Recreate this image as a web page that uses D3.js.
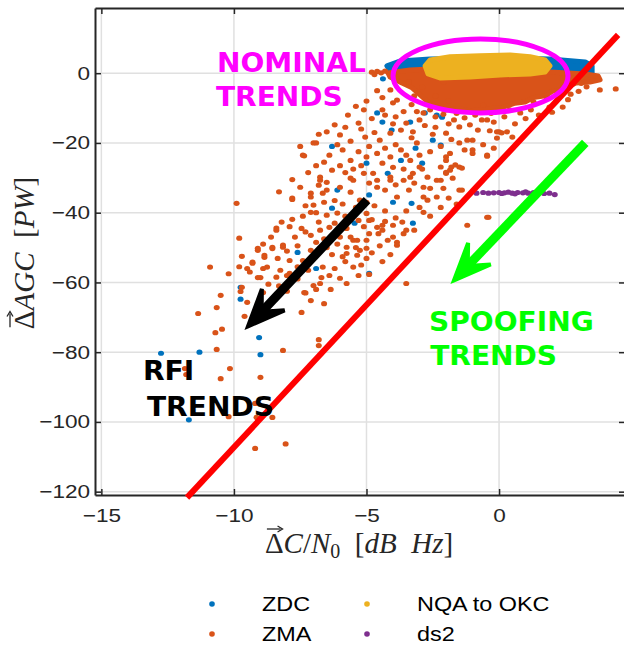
<!DOCTYPE html>
<html>
<head>
<meta charset="utf-8">
<title></title>
<script src="https://d3js.org/d3.v7.min.js"></script>
<style>
  body { margin: 0; background: #fff; }
</style>
</head>
<body>
<script>

var width = 624,
    height = 646,
    box = {left: 95, right: 625, top: 8, bottom: 495};

// axis ticks
var xTicks = [-15, -10, -5, 0];
var yTicks = [0, -20, -40, -60, -80, -100, -120];

// legend
var seriesNames = ["ZDC", "ZMA", "NQA to OKC", "ds2"];
var seriesColors = ["#0072BD", "#D95319", "#EDB120", "#7E2F8E"];

// scattered points [dC/N0, dAGC]
var zdcPoints = [[-4.38,-1.6],[-4.6,-11.4],[-4.4,-14],[-4.05,-16.3],[-2.8,-11.4],[-2.35,-12],[-6.3,-21],
  [-2.5,-19.2],[-3.35,-14],[-2.2,-20.6],[-3.15,-21.5],[-3.7,-25],[-5,-25.8],[-6.1,-33.5],[-6.3,-38.7],
  [-7.6,-51.4],[-6.9,-56],[-4.9,-57.4],[-4,-37],[-3.3,-37.3],[-3.25,-43],[-4.2,-28.7],[-4.9,-34.9],
  [-5.45,-43],[-2.9,-25.8],[-9.75,-61.4],[-9.75,-64.8],[-9.05,-75.8],[-9,-80.7],[-12.75,-80.3],
  [-11.3,-80],[-11.7,-99.4],[-2.15,-12.6],[-1.6,-9.5]];

var zmaPoints = [[-4.8,0.3],[-4.6,0.5],[-4.45,0.1],[-4.3,0.6],[-4.7,-0.4],
  [-4.1,-4.8],[-3.85,-7.7],[-4.4,-10.5],[-5.1,-10.5],[-5.7,-12],[-5.3,-14.3],[-6.5,-16.8],[-6,-17.7],
  [-7,-20],[-7.4,-23.5],[-6.4,-23.5],[-5.9,-22],[-5.05,-18.3],[-4.9,-21],[-4.5,-19.2],[-4.1,-17.2],
  [-3.7,-16.3],[-3.5,-14.3],[-3.25,-16.8],[-3,-13.4],[-2.85,-11.4],[-2.2,-21],[-2,-17.2],[-1.7,-13.4],
  [-1.5,-15.4],[-1.2,-19.2],[-1,-23],[-0.45,-23.5],[0,-16.8],[0.3,-16.8],[0.5,-18.3],[-1.5,-26.9],
  [-2,-24],[-3.7,-22],[-4.1,-24],[-3.35,-25],[-3,-26.9],[-2.7,-29.8],[-2.35,-30.7],[-2.2,-26.9],
  [-1.8,-26.9],[-2,-28.7],[-4.4,-25.8],[-4.75,-28.7],[-5,-24],[-5.6,-25],[-6.3,-27.8],[-6.75,-30.7],
  [-6.5,-33.5],[-7.1,-34.4],[-6,-32.7],[-5.5,-30.7],[-4.6,-32.7],[-4.1,-30.7],[-3.85,-35.5],
  [-2.7,-36.4],[-2.35,-35.5],[-2.85,-32.7],[-3.35,-29.8],[-1.5,-33.5],[-0.45,-41.3],[-1.2,-43.6],
  [-3.5,-45],[-4.4,-45],[-4.9,-46],[-4.2,-47.9],[-3.85,-48.5],[-5.3,-42.2],[-5,-40.2],[-5.5,-47.9],
  [-5.75,-49.9],[-5.25,-50.8],[-5,-53.1],
  [-7.8,-36.2],[-6.8,-32.1],[-6.75,-29.8],[-6.5,-31.3],[-7.1,-39.9],[-6.8,-42.7],[-6.5,-40.7],
  [-6.1,-40.1],[-8.2,-42.7],[-7.8,-41.9],[-7.45,-44.5],[-7.1,-46.5],[-6.75,-45],[-6.4,-44.2],
  [-8.4,-45],[-7.7,-47],[-8.15,-49.9],[-8.55,-50.3],[-9.1,-50.8],[-8.85,-52.8],[-8.35,-53.1],
  [-7.9,-53.7],[-7.4,-53.7],[-7.1,-50.8],[-6.65,-55.6],[-9.3,-54.2],[-8.75,-55.6],[-8.25,-56.5],
  [-7.9,-57.4],[-9,-58.6],[-7,-60.9],[-6.7,-58.6],[-6.4,-58],[-6,-58.8],[-5.75,-51.7],[-5.35,-52.2],
  [-5,-50.2],[-5.35,-47.9],[-5.6,-47],[-5,-47.9],[-5.75,-44.5],[-4.6,-44.2],[-4.4,-43.6],[-4,-43.6],
  [-4.55,-46],[-4,-47],[-3.85,-49.3],[-3.65,-42.7],[-2.85,-39.9],[-3.5,-60.3],[-4.9,-42.2],
  [-5.25,-36.4],[-5.6,-34.1],[-6.65,-34.4],[-7.1,-35.5],[-7.5,-32.7],[-5.6,-30.1],[-5.1,-28.7],
  [-4.6,-30.7],[-4.1,-29.8],[-3.6,-30.7],[-3.25,-28.7],[-2.85,-35.5],[-1.85,-27.8],[-2.2,-30.7],[-2,-25],
  [-10.9,-55.6],[-10.5,-63.7],[-10.65,-67.2],[-11.35,-68.9],[-10.7,-74.4],[-10.45,-73.4],
  [-10.65,-79.2],[-10.15,-84.7],[-10.5,-87.6],[-11.85,-84.7],[-11.8,-86.4],[-10.2,-98.5],
  [-9.7,-61.4],[-9.75,-62.6],[-9.5,-65.7],[-9.6,-69.7],[-8.9,-62.9],[-9.1,-58.6],[-9.5,-56],
  [-9.3,-54.5],[-9.1,-50.2],[-8.85,-52.2],[-8.55,-49.9],[-8.15,-49.3],[-8,-58],[-8.15,-79.5],
  [-9,-87.2],[-9.2,-94.7],[-9.15,-98.7],[-8.55,-98.7],[-9.2,-107.6],[-8.05,-106.3],[-9.9,-37.3],
  [-9.8,-47.3],[-8.4,-44.4],[-7.8,-35.8],[-7.5,-21],[-7.35,-23.7],[-6.9,-20],
  [-4.9,-57.7],[-5.75,-60.3],[-5.5,-55.6],[-5.9,-52.6],[-6.75,-60.3],[-6.6,-66.1],[-7.1,-65.2],
  [-7.45,-68.6],[-6.35,-62],[-6.8,-76.4],[-6.8,-78.1],[-7.35,-62.9],
  [-1.4,-33.5],[-0.45,-23.8],[-0.4,-41.3],[-1.75,-30.1],[-2,-28.4],[-1.65,-26.3],[-1.4,-27.2],
  [-1.3,-22],[-1,-22],[-1.5,-20],[-1.85,-23],[-0.08,-16.8],[0.1,-17.1],[-0.08,-18.6],[-0.35,-16.5],
  [-0.2,-14],[-0.45,-13.4],[-0.8,-16.3],[-0.65,-13.4],[1.9,-9.7],[2.4,-9.7],[1.2,-10.5],[0.8,-11.4],
  [-1,-19.2],[3.3,-3.9],[3.8,-4.8],[4.4,-4.5],[1.8,-7.1],[1.3,-8.2],[2.7,-6],[3.0,-5.2],
  [-3.3,-9],[-3.1,-11],[-2.6,-10.5],[-2.4,-12.5],[-2.1,-11.8],[-1.9,-14.5],[-1.6,-11.5],[-1.3,-12.8],
  [-1.1,-14.8],[-0.9,-12],[-0.3,-11.5],[0.2,-12.5],[-2.8,-15],[-2.5,-17.5],[-3.9,-12.5],[-3.6,-11],
  [-4.0,-8.5],[-4.4,-7],[-4.6,-5],[-5.0,-8],[-5.4,-9.5],[-4.8,-13],[-6.2,-14.8],[-6.8,-17.5],
  [-5.6,-19.5],[-6.1,-20.5],[-5.3,-22.5],[-4.6,-23],[-4.3,-21.5],[-3.1,-20],[-2.6,-22.5],[-3.0,-23.5],
  [-3.6,-27.5],[-4.0,-27],[-5.2,-26.5],[-5.8,-28.5],[-6.9,-26.5],[-7.2,-28.5],[-7.8,-30.5],
  [-8.3,-34],[-7.3,-38],[-6.2,-36.5],[-5.4,-38.5],[-4.3,-39.5],[-3.9,-41.5],[-6.9,-48.5],[-6.1,-49],
  [-6.3,-52],[-7.6,-59],[-8.7,-60.5],[-8.0,-62.5],[-9.7,-52.5],[-10.2,-57.5],
  [-6.6,-25.5],[-6.0,-26.5],[-5.5,-27.5],[-4.9,-31.5],[-4.3,-33.5],[-3.9,-32],[-3.4,-33.5],
  [-3.2,-31.5],[-2.6,-33],[-2.1,-33],[-1.9,-35.8],[-3.0,-38.5],[-3.5,-39.5],[-4.7,-38],[-5.0,-37],
  [-5.9,-37.5],[-6.6,-37],[-7.0,-37.8],[-7.4,-41],[-6.9,-40],[-6.2,-43],[-5.8,-41],[-5.1,-44],
  [-4.8,-42],[-4.3,-42.5],[-3.6,-46],[-3.2,-45],[-4.5,-49.5],[-4.8,-51.5],[-5.4,-50],[-6.0,-47],
  [-6.6,-47.5],[-7.3,-45.5],[-7.9,-44],[-8.6,-47],[-8.9,-49],[-8.0,-51],[-7.6,-49.5],[-6.9,-52],
  [-6.5,-50],[-5.8,-54],[-6.2,-56],[-7.2,-56.5],[-7.6,-55.5],[-8.4,-58.5],[-9.4,-57],[-8.9,-56],
  [-9.8,-55.5],[-8.3,-61],[-7.3,-63],[-6.9,-62],[-5.3,-58],[-5.2,-55],[-4.4,-54],[-4.1,-52],
  [-2.6,-41],[-2.2,-38.5],[-1.6,-37.5],[-2.9,-27.5],[-3.5,-23.5],[-3.9,-20.5],[-4.7,-17],[-5.2,-16],
  [-5.8,-15.5],[-3.3,-18.5],[-2.4,-15.5],[-1.8,-19],[-0.6,-20.5],[-0.2,-21.5],[0.6,-14.5],[1.0,-13],
  [1.5,-12],[0.4,-10.5],[-0.6,-9.2],[-1.9,-8],[-2.4,-6.5],[-3.4,-2.5],[-3.9,-1.5],[-2.9,-4],
  [2.6,-7.6],[3.1,-2.9],[2.0,-11.2],[-4.0,-14.5],[-4.3,-12],[-3.2,-6.5],[-2.1,-2.5]];

var ds2Points = [[-0.85,-34.4],[-0.6,-34.2],[-0.4,-34.4],[-0.2,-34.3],[0,-34.2],[0.2,-34.3],[0.35,-34.1],
  [0.5,-34.4],[0.7,-34.2],[0.9,-34.3],[1.1,-34.4],[1.3,-34.2],[1.5,-34.3],[1.7,-34.5],[1.9,-34.4],
  [2.1,-34.8],[0.6,-34.6],[1.0,-34.0],[1.4,-34.6],[0.1,-34.5]];

// outlines of the saturated (fully overlapped) clusters near the origin
var zdcDense = [[-4.23,2.1],[-3.74,3.5],[-2.6,4.1],[0.04,4.4],[1.92,4.1],[3.25,3.25],[3.51,2.1],
  [3.51,-0.5],[3.25,-1.35],[2.3,-0.8],[0.04,0.37],[-2.6,0.95],[-4.11,0.95]];

var zmaDense = [[-4.19,0.1],[-3.36,0.95],[-2.6,1.2],[0.04,0.95],[1.92,0.37],[3.25,-0.2],[3.74,-0.8],
  [3.81,-1.9],[3.43,-2.5],[2.9,-2.8],[2.68,-3.6],[2.3,-4.8],[2.0,-5.2],[1.74,-6.5],[1.3,-7.0],
  [0.98,-8.25],[0.6,-8.6],[0.04,-10],[-0.5,-10.2],[-1.1,-10.8],[-1.6,-10.1],[-2.04,-10.6],
  [-2.4,-9.4],[-2.6,-8.8],[-2.98,-6.2],[-3.28,-4.2],[-3.74,-2.5],[-4.11,-1.1]];

var nqaDense = [[-2.79,2.1],[-2.6,3.8],[-1.85,4.7],[-0.72,5.0],[0.42,5.25],[1.17,4.7],[1.74,3.8],
  [1.92,2.1],[1.74,0.37],[1.17,-0.2],[0.04,-0.5],[-1.1,-1.06],[-2.23,-1.35],[-2.68,-0.2]];

var x = d3.scaleLinear().domain([-15.24, 4.75]).range([box.left, box.right]);
var y = d3.scaleLinear().domain([-120.95, 18.7]).range([box.bottom, box.top]);

var svg = d3.select("body").append("svg").attr("width", width).attr("height", height);

// grid
svg.append("g").selectAll("line").data(xTicks).enter().append("line")
  .attr("x1", function(d){ return x(d); }).attr("x2", function(d){ return x(d); })
  .attr("y1", box.top).attr("y2", box.bottom)
  .attr("stroke", "#e0e0e0").attr("stroke-width", 1.5);
svg.append("g").selectAll("line").data(yTicks).enter().append("line")
  .attr("y1", function(d){ return y(d); }).attr("y2", function(d){ return y(d); })
  .attr("x1", box.left).attr("x2", box.right)
  .attr("stroke", "#e0e0e0").attr("stroke-width", 1.5);

// axes (ticks inward, like matlab)
function styleAxis(g) {
  g.selectAll("path.domain").attr("stroke", "#262626").attr("stroke-width", 2);
  g.selectAll(".tick line").attr("stroke", "#262626").attr("stroke-width", 1.5);
}
var gx = svg.append("g").attr("transform", "translate(0," + box.bottom + ")")
  .call(d3.axisBottom(x).tickValues(xTicks).tickSize(-6).tickSizeOuter(0).tickPadding(14));
var gy = svg.append("g").attr("transform", "translate(" + box.left + ",0)")
  .call(d3.axisLeft(y).tickValues(yTicks).tickSize(-6).tickSizeOuter(0).tickPadding(4));
var gt = svg.append("g").attr("transform", "translate(0," + box.top + ")")
  .call(d3.axisTop(x).tickValues(xTicks).tickSize(-6).tickSizeOuter(0).tickFormat(""));
var gr = svg.append("g").attr("transform", "translate(" + box.right + ",0)")
  .call(d3.axisRight(y).tickValues(yTicks).tickSize(-6).tickSizeOuter(0).tickFormat(""));
[gx, gy, gt, gr].forEach(styleAxis);

[gx, gy].forEach(function(g) {
  g.selectAll("text").attr("fill", "#262626")
    .style("font-size", "18.5px")
    .style("font-family", "'Liberation Sans', Arial, sans-serif")
    .attr("transform", "scale(1.22,1)");
});

// series
var plot = svg.append("g");
var line = d3.line().x(function(d){ return x(d[0]); }).y(function(d){ return y(d[1]); }).curve(d3.curveLinearClosed);

function dense(data, color) {
  plot.append("path").attr("d", line(data)).attr("fill", color)
    .attr("stroke", color).attr("stroke-width", 5).attr("stroke-linejoin", "round");
}
function dots(data, color) {
  plot.append("g").selectAll("ellipse").data(data).enter().append("ellipse")
    .attr("cx", function(d){ return x(d[0]); })
    .attr("cy", function(d){ return y(d[1]); })
    .attr("rx", 3).attr("ry", 2.6)
    .attr("fill", color);
}

dense(zdcDense, seriesColors[0]);
dots(zdcPoints, seriesColors[0]);
dense(zmaDense, seriesColors[1]);
dots(zmaPoints, seriesColors[1]);
dense(nqaDense, seriesColors[2]);
dots(ds2Points, seriesColors[3]);

// annotations
var ann = svg.append("g");

ann.append("line")
  .attr("x1", x(-11.77)).attr("y1", y(-121.7))
  .attr("x2", x(4.49)).attr("y2", y(11.0))
  .attr("stroke", "#ff0000").attr("stroke-width", 6);

ann.append("ellipse")
  .attr("cx", x(-0.7)).attr("cy", y(-0.78))
  .attr("rx", x(-0.7 + 3.3) - x(-0.7)).attr("ry", y(-0.78 - 10.6) - y(-0.78))
  .attr("fill", "none").attr("stroke", "#ff00ff").attr("stroke-width", 5);

function arrow(from, to, color) {
  var x0 = x(from[0]), y0 = y(from[1]), x1 = x(to[0]), y1 = y(to[1]);
  var a = Math.atan2(y0 - y1, x0 - x1);
  var L = 40, s = 23 * Math.PI / 180, notch = 20;
  var b1 = [x1 + L * Math.cos(a + s), y1 + L * Math.sin(a + s)];
  var b2 = [x1 + L * Math.cos(a - s), y1 + L * Math.sin(a - s)];
  var n = [x1 + notch * Math.cos(a), y1 + notch * Math.sin(a)];
  ann.append("line").attr("x1", x0).attr("y1", y0).attr("x2", n[0]).attr("y2", n[1])
    .attr("stroke", color).attr("stroke-width", 9);
  ann.append("path").attr("d", "M" + [x1, y1] + "L" + b1 + "L" + n + "L" + b2 + "Z")
    .attr("fill", color).attr("stroke", color).attr("stroke-width", 4).attr("stroke-linejoin", "miter");
}
arrow([-4.98, -36.4], [-9.47, -72.6], "#000000");
arrow([3.25, -20], [-1.7, -59.4], "#00ff00");

function label(lines, pos, color) {
  lines.forEach(function(t, i) {
    ann.append("text")
      .attr("transform", "translate(" + x(pos[i][0]) + "," + y(pos[i][1]) + ") scale(1.04,1)")
      .style("font-family", "'DejaVu Sans', sans-serif").style("font-weight", "bold")
      .style("font-size", "27px").style("fill", color).text(t);
  });
}
label(["NOMINAL", "TRENDS"], [[-10.64, 0.37], [-10.68, -9.4]], "#ff00ff");
label(["SPOOFING", "TRENDS"], [[-2.64, -73.8], [-2.6, -83.8]], "#00ff00");
label(["RFI", "TRENDS"], [[-13.43, -88.1], [-13.28, -98.2]], "#000000");

// axis labels (latex-like)
function mathLabel(transform, parts) {
  var g = svg.append("g").attr("transform", transform);
  var t = g.append("text").style("font-family", "'Liberation Serif', 'Times New Roman', serif")
    .style("font-size", "29px").style("fill", "#262626");
  parts.forEach(function(p) {
    var ts = t.append("tspan").text(p[0]);
    if (p[1] === "i") ts.style("font-style", "italic");
    if (p[1] === "sub") ts.style("font-size", "20px").attr("dy", 5);
    if (p[1] === "up") ts.attr("dy", -5);
  });
  var len = t.node().getComputedTextLength();
  t.attr("x", -len / 2);
  var wD = t.node().getSubStringLength(0, 1);
  var ax0 = -len / 2 + 2, ax1 = -len / 2 + wD - 1, ay = -24;
  g.append("line").attr("x1", ax0).attr("x2", ax1 - 2).attr("y1", ay).attr("y2", ay)
    .attr("stroke", "#262626").attr("stroke-width", 1.3);
  g.append("path").attr("d", "M" + (ax1 - 5) + "," + (ay - 3) + "L" + ax1 + "," + ay + "L" + (ax1 - 5) + "," + (ay + 3))
    .attr("fill", "none").attr("stroke", "#262626").attr("stroke-width", 1.3);
}
mathLabel("translate(359,553)", [["\u0394"], ["C", "i"], ["/"], ["N", "i"], ["0", "sub"],
  ["\u2002[", "up"], ["dB", "i"], ["\u2002"], ["Hz", "i"], ["]"]]);
mathLabel("translate(34,253) rotate(-90)", [["\u0394"], ["AGC", "i"], ["\u2002["], ["PW", "i"], ["]"]]);

// legend
var legendPos = [[212, 604], [212, 634], [367, 604], [367, 634]];
var leg = svg.append("g");
seriesNames.forEach(function(name, i) {
  leg.append("circle").attr("cx", legendPos[i][0]).attr("cy", legendPos[i][1]).attr("r", 2.8)
    .attr("fill", seriesColors[i]);
  leg.append("text")
    .attr("transform", "translate(" + (legendPos[i][0] + 50) + "," + (legendPos[i][1] + 7) + ") scale(1.2,1)")
    .style("font-family", "'Liberation Sans', Arial, sans-serif")
    .style("font-size", "19.5px").style("fill", "#000").text(name);
});

</script>
</body>
</html>
